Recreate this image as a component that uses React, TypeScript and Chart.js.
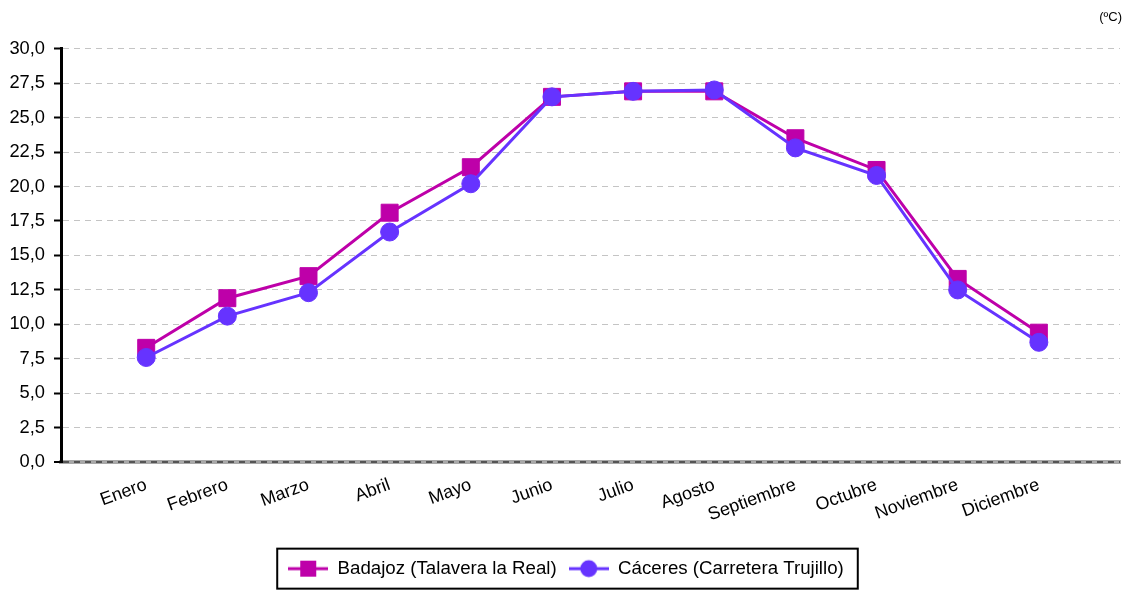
import React, { useEffect, useRef } from 'react';
import { Chart, registerables } from 'chart.js';

Chart.register(...registerables);

const months = ['Enero', 'Febrero', 'Marzo', 'Abril', 'Mayo', 'Junio', 'Julio', 'Agosto', 'Septiembre', 'Octubre', 'Noviembre', 'Diciembre'];
const badajozLabel = 'Badajoz (Talavera la Real)';
const caceresLabel = 'Cáceres (Carretera Trujillo)';
const badajoz = [8.3, 11.9, 13.5, 18.1, 21.4, 26.5, 26.9, 26.9, 23.5, 21.2, 13.3, 9.4];
const caceres = [7.6, 10.6, 12.3, 16.7, 20.2, 26.5, 26.9, 27.0, 22.8, 20.8, 12.5, 8.7];
const yMin = 0;
const yMax = 30;
const yStep = 2.5;
const unitLabel = '(ºC)';

const BADAJOZ_COLOR = '#BE00A9';
const CACERES_COLOR = '#6633FF';
const FONT = "'Liberation Sans', Arial, sans-serif";

function makeMarker(color: string, style: 'rect' | 'circle'): HTMLCanvasElement {
  const c = document.createElement('canvas');
  c.width = 40;
  c.height = 20;
  const ctx = c.getContext('2d')!;
  ctx.strokeStyle = color;
  ctx.fillStyle = color;
  ctx.lineWidth = 3;
  ctx.beginPath();
  ctx.moveTo(0, 10);
  ctx.lineTo(40, 10);
  ctx.stroke();
  if (style === 'rect') {
    ctx.fillRect(12, 2, 16, 16);
  } else {
    ctx.beginPath();
    ctx.arc(20, 10, 8.5, 0, Math.PI * 2);
    ctx.fill();
  }
  return c;
}

const legendBorder = {
  id: 'legendBorder',
  afterDraw(chart: any) {
    const lg = chart.legend;
    if (!lg || !lg.legendHitBoxes || !lg.legendHitBoxes.length) return;
    const boxes = lg.legendHitBoxes;
    const left = Math.min(...boxes.map((b: any) => b.left)) - 11;
    const right = Math.max(...boxes.map((b: any) => b.left + b.width)) + 14;
    const cy = boxes[0].top + boxes[0].height / 2;
    const ctx = chart.ctx;
    ctx.save();
    ctx.strokeStyle = '#000';
    ctx.lineWidth = 2;
    ctx.strokeRect(left, cy - 20, right - left, 40);
    ctx.restore();
  },
};

export default function App() {
  const ref = useRef<HTMLCanvasElement>(null);
  useEffect(() => {
    if (!ref.current) return;
    Chart.defaults.font.family = FONT;
    Chart.defaults.color = '#000';
    const markers = [makeMarker(BADAJOZ_COLOR, 'rect'), makeMarker(CACERES_COLOR, 'circle')];
    const chart = new Chart(ref.current, {
      type: 'line',
      data: {
        datasets: [
          {
            label: badajozLabel,
            data: badajoz.map((v, i) => ({ x: i + 1, y: v })),
            borderColor: BADAJOZ_COLOR,
            backgroundColor: BADAJOZ_COLOR,
            pointStyle: 'rect',
            pointRadius: 12,
            pointBorderWidth: 1,
            borderWidth: 3,
            tension: 0,
            order: 1,
          },
          {
            label: caceresLabel,
            data: caceres.map((v, i) => ({ x: i + 1, y: v })),
            borderColor: CACERES_COLOR,
            backgroundColor: CACERES_COLOR,
            pointStyle: 'circle',
            pointRadius: 9,
            pointBorderWidth: 1,
            borderWidth: 3,
            tension: 0,
            order: 0,
          },
        ],
      },
      options: {
        animation: false,
        responsive: false,
        layout: { padding: { left: 10, right: 11, top: 0, bottom: 2 } },
        plugins: {
          tooltip: { enabled: false },
          title: {
            display: true,
            text: unitLabel,
            align: 'end',
            color: '#000',
            font: { size: 13, weight: 'normal' },
            padding: { top: 10, bottom: 23 },
          },
          legend: {
            position: 'bottom',
            labels: {
              usePointStyle: true,
              pointStyleWidth: 40,
              padding: 12,
              color: '#000',
              font: { size: 18.7 },
              generateLabels: (ch: any) =>
                ch.data.datasets.map((ds: any, i: number) => ({
                  text: ds.label,
                  pointStyle: markers[i],
                  fillStyle: ds.borderColor,
                  strokeStyle: ds.borderColor,
                  lineWidth: 0,
                  hidden: false,
                  datasetIndex: i,
                  fontColor: '#000',
                })),
            },
          },
        },
        scales: {
          x: {
            type: 'linear',
            min: -0.05,
            max: months.length + 1,
            afterFit: (s: any) => {
              s.height = 85;
            },
            afterBuildTicks: (s: any) => {
              s.ticks = months.map((_, i) => ({ value: i + 1 }));
            },
            grid: { display: false, drawTicks: true, tickLength: 8 },
            border: { display: true, color: '#a8a8a8', width: 4, z: -1 },
            ticks: {
              autoSkip: false,
              minRotation: 20,
              maxRotation: 20,
              padding: 4,
              color: '#000',
              font: { size: 18 },
              callback: (v: any) => {
                const i = Math.round(Number(v));
                return i >= 1 && i <= months.length ? months[i - 1] : '';
              },
            },
          },
          y: {
            min: yMin,
            max: yMax,
            afterFit: (s: any) => {
              s.width = 51;
            },
            grid: {
              color: (c: any) => (c.tick && c.tick.value === 0 ? '#555555' : '#c4c4c4'),
              lineWidth: (c: any) => (c.tick && c.tick.value === 0 ? 2 : 1),
              tickColor: '#000',
              tickLength: 7,
              tickWidth: 2,
            },
            border: { display: true, color: '#000', width: 3, dash: [6, 5] },
            ticks: {
              stepSize: yStep,
              padding: 9,
              color: '#000',
              font: { size: 18.3 },
              callback: (v: any) => Number(v).toFixed(1).replace('.', ','),
            },
          },
        },
      },
      plugins: [legendBorder],
    } as any);
    return () => chart.destroy();
  }, []);
  return (
    <div style={{ position: 'absolute', left: 0, top: 0, width: 1133, height: 590, background: '#fff' }}>
      <canvas ref={ref} width={1133} height={590} />
    </div>
  );
}
